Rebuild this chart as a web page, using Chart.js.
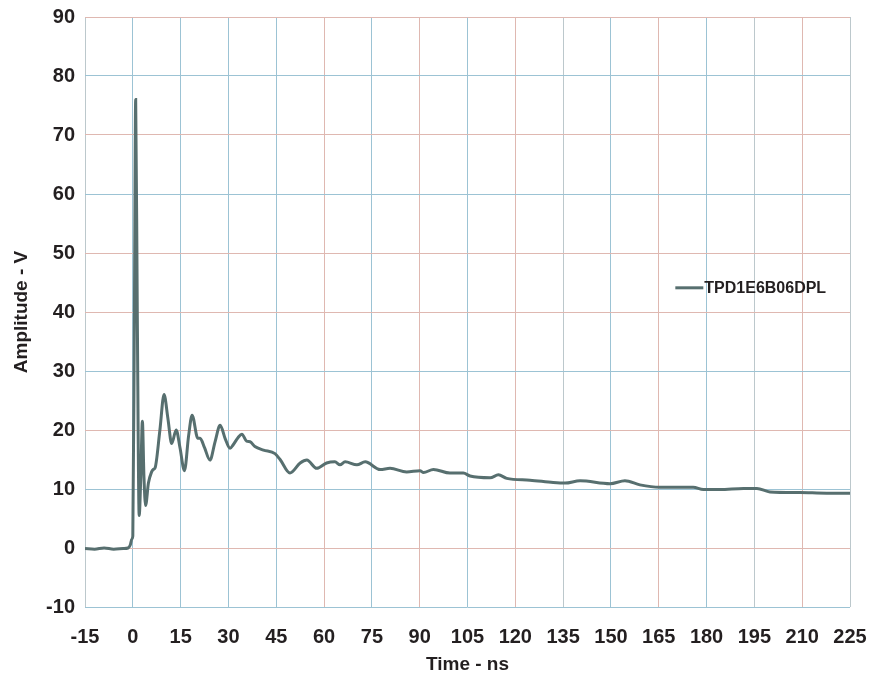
<!DOCTYPE html>
<html>
<head>
<meta charset="utf-8">
<script src="https://cdn.jsdelivr.net/npm/chart.js@4"></script>
<style>
    html, body { margin: 0; padding: 0; background: white; }
    #box { width: 869px; height: 682px; }
</style>
</head>
<body>
<div id="box"><canvas id="pulseChart"></canvas></div>
<script>

/*
    Clamp waveform, amplitude vs time.
*/

var series_name = 'TPD1E6B06DPL';

var time_ns = [
    -15, -12, -9, -6, -3, -1.5, -0.8, -0.3, 0, 0.5, 0.9, 1.4, 2.0, 2.5, 3.0, 3.5, 4.0,
    4.9, 5.9, 6.4, 7.0, 8.5, 9.8, 11, 12.2, 13.6, 14.8, 16.2, 17.5, 18.6, 20.4, 21.1,
    22.5, 24.2, 25.8, 27.4, 29, 30.5, 31.5, 33, 34.2, 35.7, 36.8, 38.3, 41, 44.6,
    46.2, 49.3, 52.5, 54.6, 57.7, 60.8, 63.4, 65, 66.6, 70.3, 72.9, 77.6, 80.7,
    85.9, 90.1, 91.2, 94.3, 99.5, 103.7, 105.8, 112.1, 114.7, 117.3, 124.6, 131.9,
    135.6, 140.3, 149.7, 154.4, 159.1, 165.4, 175.8, 179, 184.2, 191.6, 195.8,
    199.9, 209.3, 217.7, 225];

var amplitude_v = [
    -0.1, -0.2, 0, -0.2, -0.1, 0, 0.5, 1.5, 2, 40, 76, 40, 5.5, 12, 21.5, 12, 7.2,
    11, 12.9, 13.3, 13.6, 20, 26, 22, 17.7, 20, 17, 13.1, 19, 22.5, 18.6, 18.6,
    17, 14.9, 18, 20.8, 18.5, 16.9, 17.5, 18.7, 19.3, 18.1, 18.0, 17.2, 16.6, 16.0,
    15.0, 12.7, 14.4, 14.9, 13.5, 14.4, 14.6, 14.1, 14.6, 14.1, 14.6, 13.3, 13.5,
    12.9, 13.1, 12.8, 13.3, 12.7, 12.7, 12.2, 11.9, 12.4, 11.8, 11.5, 11.1,
    11.0, 11.4, 10.9, 11.4, 10.7, 10.3, 10.3, 9.9, 9.9, 10.1, 10.1,
    9.5, 9.4, 9.3, 9.3];

var x_ticks = [-15, 225, 15];
var y_ticks = [-10, 90, 10];

var grid_blue = '#9cc3d4';
var grid_red = '#dfb8b1';
var grid_grey = '#bcc8cc';
var x_grid_colors = [grid_grey, grid_blue, grid_blue, grid_blue, grid_blue, grid_red, grid_blue,
    grid_red, grid_blue, grid_red, grid_grey, grid_blue, grid_red, grid_blue, grid_grey, grid_red, grid_grey];
var y_grid_colors = [grid_blue, grid_red, grid_blue, grid_red, grid_blue, grid_red, grid_red,
    grid_blue, grid_red, grid_blue, grid_red];

var line_color = '#576f6f';

Chart.defaults.font.family = "Arial, 'Liberation Sans', sans-serif";
Chart.defaults.font.weight = 'bold';
Chart.defaults.color = '#231f20';

var points = [];
for (var i = 0; i < time_ns.length; i++) {
    points.push({x: time_ns[i], y: amplitude_v[i]});
}

// legend drawn inside the plot area
var inner_legend = {
    id: 'inner_legend',
    afterDatasetsDraw: function(chart) {
        var ctx = chart.ctx;
        var x0 = chart.scales.x.getPixelForValue(170.2);
        var y0 = chart.scales.y.getPixelForValue(44.1);
        ctx.save();
        ctx.strokeStyle = line_color;
        ctx.lineWidth = 3;
        ctx.beginPath();
        ctx.moveTo(x0, y0);
        ctx.lineTo(x0 + 28, y0);
        ctx.stroke();
        ctx.fillStyle = '#231f20';
        ctx.font = "bold 16px Arial, 'Liberation Sans', sans-serif";
        ctx.textBaseline = 'middle';
        ctx.fillText(series_name, x0 + 29, y0 + 1);
        ctx.restore();
    }
};

var ctx = document.getElementById('pulseChart').getContext('2d');

var chart_object = new Chart(ctx, {
    type: 'line',
    data: {
        datasets: [{
            label: series_name,
            data: points,
            borderColor: line_color,
            borderWidth: 3,
            pointRadius: 0,
            cubicInterpolationMode: 'monotone',
            fill: false,}],},

    options: {
        responsive: true,
        maintainAspectRatio: false,
        animation: false,
        layout: {padding: {top: 17, right: 19, left: 0, bottom: 0}},

        scales: {
            x: {
                type: 'linear',
                min: x_ticks[0],
                max: x_ticks[1],
                ticks: {stepSize: x_ticks[2], font: {size: 20}, padding: 18, maxRotation: 0,
                    autoSkip: false},
                grid: {
                    color: function(c) { return x_grid_colors[c.index] || grid_blue; },
                    lineWidth: 1,
                    drawTicks: false,},
                border: {display: false},
                title: {display: true, text: 'Time - ns', font: {size: 19}, padding: {top: 0, bottom: 6}},
                afterFit: function(scale) {
                    scale.height = 75;
                    scale.paddingLeft = 0;
                    scale.paddingRight = 0;},},
            y: {
                min: y_ticks[0],
                max: y_ticks[1],
                ticks: {stepSize: y_ticks[2], font: {size: 20}, padding: 10},
                grid: {
                    color: function(c) { return y_grid_colors[c.index] || grid_blue; },
                    lineWidth: 1,
                    drawTicks: false,},
                border: {display: false},
                title: {display: true, text: 'Amplitude - V', font: {size: 19}, padding: {top: 10, bottom: 0}},
                afterFit: function(scale) {
                    scale.width = 85;
                    scale.paddingTop = 0;
                    scale.paddingBottom = 0;},},
        },

        plugins: {
            legend: {display: false},
            tooltip: {enabled: false},},
    },
    plugins: [inner_legend],
});

</script>
</body>
</html>
